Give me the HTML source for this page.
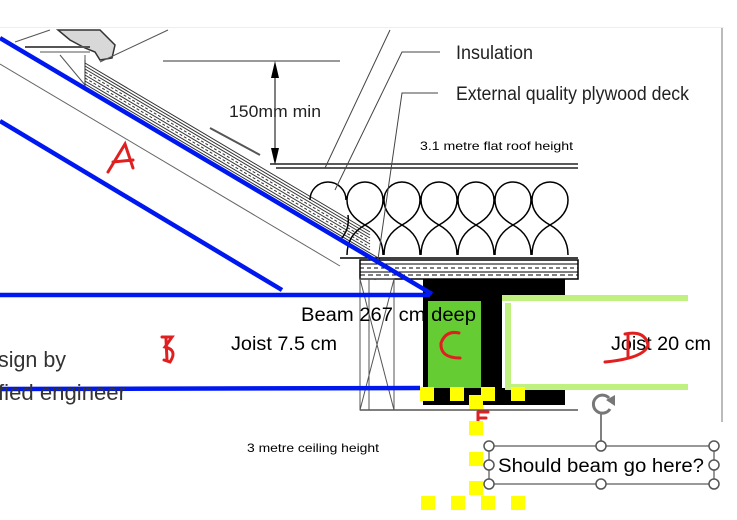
<!DOCTYPE html>
<html><head><meta charset="utf-8"><style>
html,body{margin:0;padding:0;background:#fff;width:737px;height:520px;overflow:hidden}
svg{display:block}
</style></head><body>
<svg width="737" height="520" viewBox="0 0 737 520" xmlns="http://www.w3.org/2000/svg">
<rect x="0" y="27" width="724" height="1" fill="#eee"/>
<line x1="722" y1="28" x2="722" y2="422" stroke="#bbb" stroke-width="2"/>
<!-- tile -->
<path d="M58 30 L100 30 L115 45 L112 58 L100 60 L95 52 L85 48 L70 40 Z" fill="#d8d8d8" stroke="#333" stroke-width="1.5"/>
<line x1="100" y1="62" x2="168" y2="30" stroke="#555"/>
<line x1="15" y1="42" x2="50" y2="30" stroke="#555"/>
<line x1="25" y1="47" x2="90" y2="47" stroke="#555" stroke-width="2"/>
<line x1="40" y1="52" x2="90" y2="52" stroke="#555"/>
<line x1="60" y1="55" x2="85" y2="85" stroke="#555"/>
<line x1="85" y1="55" x2="85" y2="85" stroke="#555"/>
<!-- roof hatched layers -->
<g stroke="#333" stroke-width="1">
<line x1="85" y1="63" x2="370" y2="232"/>
<line x1="85" y1="66" x2="370" y2="235"/>
<line x1="85" y1="69" x2="370" y2="238"/>
<line x1="85" y1="72" x2="370" y2="241" stroke-dasharray="3 2"/>
<line x1="85" y1="75" x2="370" y2="244"/>
<line x1="85" y1="78" x2="370" y2="247" stroke-dasharray="3 2"/>
<line x1="85" y1="81" x2="370" y2="250"/>
<line x1="85" y1="84" x2="380" y2="259"/>
<line x1="85" y1="60" x2="85" y2="86"/>
</g>
<line x1="210" y1="128" x2="260" y2="155" stroke="#555" stroke-width="2"/>
<line x1="0" y1="64" x2="340" y2="266" stroke="#666" stroke-width="1"/>
<!-- dimension -->
<line x1="163" y1="61" x2="340" y2="61" stroke="#333"/>
<polygon points="275,61 271,78 279,78" fill="#000"/>
<line x1="275" y1="78" x2="275" y2="148" stroke="#000"/>
<polygon points="275,165 271,148 279,148" fill="#000"/>
<text x="229" y="117" font-family="Liberation Sans, sans-serif" font-size="17" fill="#222" textLength="92" lengthAdjust="spacingAndGlyphs">150mm min</text>
<!-- flat roof -->
<line x1="270" y1="164" x2="578" y2="164" stroke="#222" stroke-width="1.5"/>
<line x1="276" y1="168" x2="578" y2="168" stroke="#222" stroke-width="1.5"/>
<g fill="none" stroke="#000" stroke-width="1.5">
<path d="M310 200 a18 18 0 1 1 36 0"/>
<path d="M347 200 a18 18 0 1 1 36 0 M347 200 q0 15 18 25 q-18 10 -18 30 M383 200 q0 15 -18 25 q18 10 18 30"/>
<path d="M384 200 a18 18 0 1 1 36 0 M384 200 q0 15 18 25 q-18 10 -18 30 M420 200 q0 15 -18 25 q18 10 18 30"/>
<path d="M421 200 a18 18 0 1 1 36 0 M421 200 q0 15 18 25 q-18 10 -18 30 M457 200 q0 15 -18 25 q18 10 18 30"/>
<path d="M458 200 a18 18 0 1 1 36 0 M458 200 q0 15 18 25 q-18 10 -18 30 M494 200 q0 15 -18 25 q18 10 18 30"/>
<path d="M495 200 a18 18 0 1 1 36 0 M495 200 q0 15 18 25 q-18 10 -18 30 M531 200 q0 15 -18 25 q18 10 18 30"/>
<path d="M532 200 a18 18 0 1 1 36 0 M532 200 q0 15 18 25 q-18 10 -18 30 M568 200 q0 15 -18 25 q18 10 18 30"/>
<path d="M340 240 q10 -10 8 -25"/>
</g>
<line x1="340" y1="258" x2="578" y2="258" stroke="#000" stroke-width="1.5"/>
<!-- leaders -->
<g stroke="#444" fill="none">
<path d="M390 30 L325 168"/>
<path d="M440 52 L402 52 L335 190"/>
<path d="M438 93 L402 93 L375 280"/>
</g>
<text x="456" y="59" font-family="Liberation Sans, sans-serif" font-size="19" fill="#222" textLength="77" lengthAdjust="spacingAndGlyphs">Insulation</text>
<text x="456" y="100" font-family="Liberation Sans, sans-serif" font-size="19" fill="#222" textLength="233" lengthAdjust="spacingAndGlyphs">External quality plywood deck</text>
<text x="420" y="150" font-family="Liberation Sans, sans-serif" font-size="12" fill="#000" textLength="153" lengthAdjust="spacingAndGlyphs">3.1 metre flat roof height</text>
<!-- deck -->
<rect x="360" y="260" width="218" height="19" fill="#fff" stroke="#000" stroke-width="1.5"/>
<g stroke="#000"><line x1="360" y1="264" x2="578" y2="264"/><line x1="360" y1="268" x2="578" y2="268" stroke-dasharray="4 3"/><line x1="360" y1="272" x2="578" y2="272"/><line x1="360" y1="275" x2="578" y2="275" stroke-dasharray="5 3"/></g>
<!-- post -->
<g stroke="#555" fill="none"><rect x="360" y="279" width="34" height="131"/><line x1="360" y1="279" x2="394" y2="410"/><line x1="394" y1="279" x2="360" y2="410"/><line x1="369" y1="279" x2="369" y2="410"/></g>
<line x1="360" y1="410" x2="578" y2="410" stroke="#555" stroke-width="1.5"/>
<!-- I beam -->
<rect x="423" y="279" width="142" height="17" fill="#000"/>
<rect x="423" y="279" width="79" height="126" fill="#000"/>
<rect x="427" y="388" width="138" height="17" fill="#000"/>
<rect x="428" y="301" width="53" height="87" fill="#66cc33"/>
<!-- green joist -->
<g fill="#c0f080"><rect x="502" y="295" width="186" height="6"/><rect x="505" y="303" width="6" height="86"/><rect x="505" y="384" width="183" height="6"/></g>
<!-- blue lines -->
<g stroke="#0018f0" stroke-width="4.5" stroke-linecap="butt">
<line x1="0" y1="38" x2="432" y2="294"/>
<line x1="0" y1="121" x2="282" y2="290"/>
<line x1="0" y1="295" x2="430" y2="295"/>
<line x1="0" y1="389" x2="420" y2="388"/>
</g>
<!-- texts -->
<text x="301" y="321" font-family="Liberation Sans, sans-serif" font-size="19" fill="#000" textLength="175" lengthAdjust="spacingAndGlyphs">Beam 267 cm deep</text>
<text x="231" y="350" font-family="Liberation Sans, sans-serif" font-size="19" fill="#000" textLength="106" lengthAdjust="spacingAndGlyphs">Joist 7.5 cm</text>
<text x="611" y="350" font-family="Liberation Sans, sans-serif" font-size="19" fill="#000" textLength="100" lengthAdjust="spacingAndGlyphs">Joist 20 cm</text>
<text x="-2" y="367" font-family="Liberation Sans, sans-serif" font-size="22" fill="#333" textLength="68" lengthAdjust="spacingAndGlyphs">sign by</text>
<text x="-2" y="400" font-family="Liberation Sans, sans-serif" font-size="22" fill="#333" textLength="128" lengthAdjust="spacingAndGlyphs">fied engineer</text>
<text x="247" y="452" font-family="Liberation Sans, sans-serif" font-size="12" fill="#000" textLength="132" lengthAdjust="spacingAndGlyphs">3 metre ceiling height</text>
<!-- red letters -->
<g fill="none" stroke="#e02020" stroke-width="3" stroke-linecap="round">
<path d="M108 172 L125 144 L133 168 M113 162 L133 160"/>
<path d="M162 337 L172 337 L165 347 Q178 350 170 362 L164 360 M166 339 L167 360"/>
<path d="M459 333 Q446 330 441 343 Q440 358 460 358"/>
<path d="M625 334 Q645 330 648 345 Q645 358 605 362 M628 334 L628 358"/>
<path d="M478 412 L478 425 M478 412 L488 412 M478 418 L486 418"/>
</g>
<!-- yellow squares -->
<g fill="#ffff00">
<rect x="420" y="387" width="14" height="14"/><rect x="450" y="387" width="14" height="14"/><rect x="481" y="387" width="14" height="14"/><rect x="469" y="395" width="14" height="14"/><rect x="511" y="387" width="14" height="14"/>
<rect x="469" y="421" width="14" height="14"/><rect x="469" y="452" width="14" height="14"/><rect x="469" y="481" width="14" height="14"/>
<rect x="421" y="496" width="14" height="14"/><rect x="451" y="496" width="14" height="14"/><rect x="481" y="496" width="14" height="14"/><rect x="511" y="496" width="14" height="14"/>
</g>
<!-- selection -->
<g stroke="#555" fill="#fff" stroke-width="1.5">
<line x1="601" y1="413" x2="601" y2="446"/>
<rect x="489" y="446" width="225" height="38" fill="none" stroke="#777"/>
<circle cx="489" cy="446" r="5"/><circle cx="601" cy="446" r="5"/><circle cx="714" cy="446" r="5"/>
<circle cx="489" cy="465" r="5"/><circle cx="714" cy="465" r="5"/>
<circle cx="489" cy="484" r="5"/><circle cx="601" cy="484" r="5"/><circle cx="714" cy="484" r="5"/>
</g>
<path d="M609 398 A9 9 0 1 0 610 409" fill="none" stroke="#777" stroke-width="3"/>
<polygon points="606,400 615,395 615,406" fill="#777"/>
<text x="498" y="472" font-family="Liberation Sans, sans-serif" font-size="19" fill="#000" textLength="206" lengthAdjust="spacingAndGlyphs">Should beam go here?</text>
</svg>
</body></html>
